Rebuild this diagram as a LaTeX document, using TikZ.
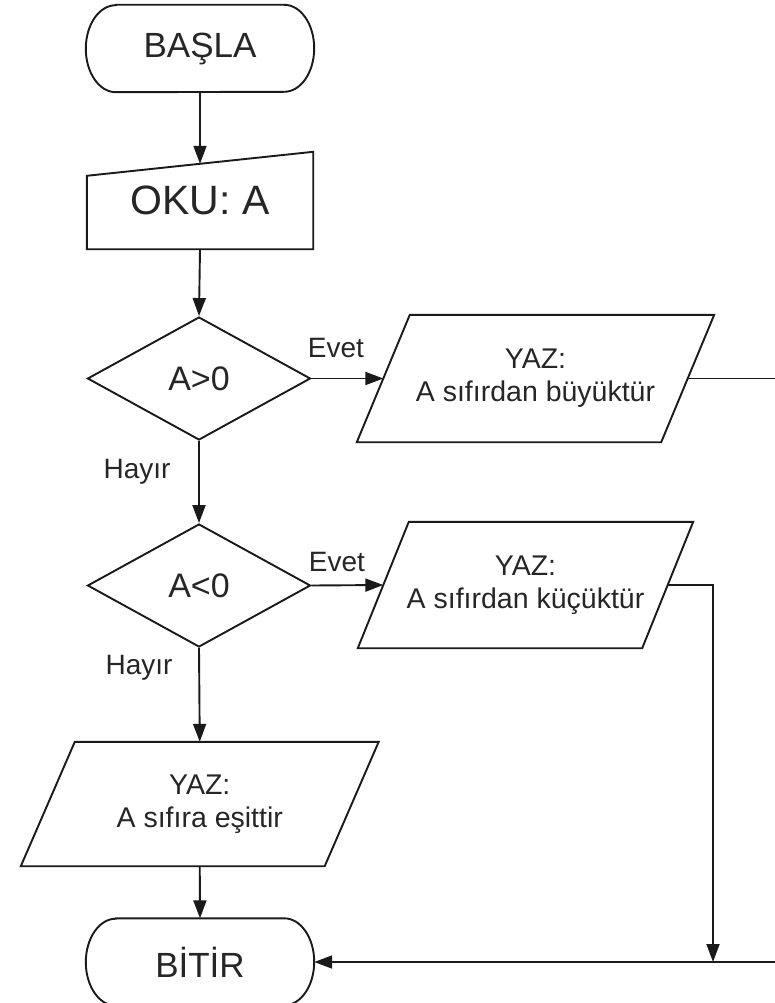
\documentclass[tikz,border=0pt]{standalone}
\usepackage{fontspec}
\setmainfont{Liberation Sans}
\usetikzlibrary{shapes.geometric,arrows.meta,calc}
\definecolor{ink}{HTML}{1A1A1A}
\definecolor{txt}{HTML}{262626}
\begin{document}
\begin{tikzpicture}[x=1pt,y=-1pt,
  every node/.style={text=txt},
  outline/.style={draw=ink,line width=1.9pt,line join=miter},
  termbox/.style={rectangle,minimum width=228pt,minimum height=87pt,inner sep=0pt,
    font=\fontsize{35}{40}\selectfont},
  inbox/.style={rectangle,minimum width=226pt,minimum height=97pt,inner sep=0pt,
    font=\fontsize{41}{46}\selectfont},
  decide/.style={outline,diamond,minimum width=223pt,minimum height=123pt,inner sep=0pt,
    font=\fontsize{34}{40}\selectfont},
  io/.style={rectangle,inner sep=0pt,align=center,font=\fontsize{28.5}{33}\selectfont},
  lbl/.style={font=\fontsize{28}{32}\selectfont,inner sep=0pt},
  flow/.style={draw=ink,line width=1.9pt,-{Triangle[length=18pt,width=13pt]}}]
\useasboundingbox (0,0) rectangle (775,1003);
\clip (0,0) rectangle (775,1003);
\fill[white] (0,0) rectangle (775,1003);

% start / end terminals: straight top and bottom, half-ellipse ends
\node[termbox] (basla) at (200,48.5) {BAŞLA};
\node[termbox] (bitir) at (200,962) {BİTİR};
\foreach \t in {basla,bitir}{
  \draw[outline] ([xshift=30pt]\t.north west) -- ([xshift=-30pt]\t.north east)
    arc[start angle=90,end angle=-90,x radius=30pt,y radius=43.5pt]
    -- ([xshift=30pt]\t.south west)
    arc[start angle=270,end angle=90,x radius=30pt,y radius=43.5pt] -- cycle;
}

% manual input: read A
\node[inbox] (oku) at (200,200.5) {OKU: A};
\draw[outline] (oku.south west) -- (oku.south east) -- (oku.north east)
  -- ([yshift=-24pt]oku.north west) -- cycle;
\coordinate (okuin) at ([yshift=-12pt]oku.north);

% decisions
\node[decide] (d1) at (199,378.5) {A>0};
\node[decide] (d2) at (199,585.5) {A<0};

% outputs: the node box spans the slanted sides at mid height
\node[io,minimum width=304pt,minimum height=127pt] (p1) at (535.5,378.5)
  {YAZ:\\A sıfırdan büyüktür};
\node[io,minimum width=284pt,minimum height=126pt] (p2) at (525.5,585)
  {YAZ:\\A sıfırdan küçüktür};
\node[io,minimum width=303.5pt,minimum height=124pt] (p3) at (199.75,804)
  {YAZ:\\A sıfıra eşittir};
\foreach \p/\s in {p1/26.5,p2/25.5,p3/27}{
  \draw[outline] ([xshift=\s pt]\p.north west) -- ([xshift=\s pt]\p.north east)
    -- ([xshift=-\s pt]\p.south east) -- ([xshift=-\s pt]\p.south west) -- cycle;
}

% branch labels
\node[lbl] (e1) at (336,348) {Evet};
\node[lbl] (h1) at (137,472) {Hayır};
\node[lbl] (e2) at (337,562) {Evet};
\node[lbl] (h2) at (139,668) {Hayır};

% routing points
\coordinate (j) at (713,962);
\coordinate (rt) at (795,0);

% connectors
\draw[flow] (basla.south) -- (okuin);
\draw[flow] (oku.south) -- (d1.north);
\draw[flow] (d1.east) -- (p1.west);
\draw[flow] (d1.south) -- (d2.north);
\draw[flow] (d2.east) -- (p2.west);
\draw[flow] (d2.south) -- (p3.north);
\draw[flow] (p3.south) -- (bitir.north);
\draw[flow] (p2.east) -| (j);
\draw[flow] (p1.east) -- (p1.east -| rt) -- (rt |- bitir.east) -- (bitir.east);
\end{tikzpicture}
\end{document}
